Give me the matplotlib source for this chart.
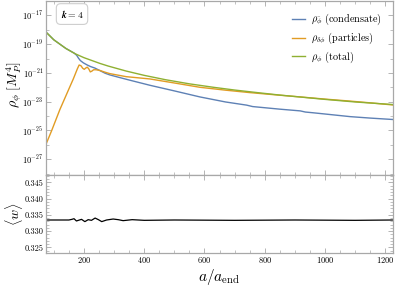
"""Energy densities and equation of state for the k = 4 run."""

import matplotlib

matplotlib.use("Agg")
import matplotlib.pyplot as plt
import numpy as np
from matplotlib.ticker import FixedLocator, MultipleLocator, NullFormatter

# values (log10 of energy density)
a_total = [74, 100, 140, 170, 200, 253, 280, 340, 400, 470, 550, 630, 700, 780, 850, 930, 1000, 1100, 1226]
log_total = [-18.16, -18.70, -19.30, -19.66, -19.94, -20.34, -20.52, -20.87, -21.17, -21.47, -21.76,
             -22.00, -22.19, -22.38, -22.54, -22.70, -22.84, -23.02, -23.20]

a_cond = [74, 100, 140, 168, 176, 182, 188, 198, 210, 222, 236, 253, 270, 286, 320, 353, 419, 500, 585,
          670, 740, 760, 790, 850, 918, 935, 960, 1020, 1084, 1150, 1226]
log_cond = [-18.16, -18.70, -19.30, -19.63, -19.78, -19.98, -20.14, -20.30, -20.44, -20.56, -20.66,
            -20.84, -21.02, -21.14, -21.33, -21.51, -21.86, -22.25, -22.67, -23.02, -23.24, -23.34,
            -23.40, -23.52, -23.64, -23.72, -23.77, -23.90, -24.04, -24.14, -24.24]

a_part = [74, 93, 120, 148, 165, 178, 184, 190, 196, 201, 206, 211, 216, 221, 226, 232, 240, 253, 270,
          286, 340, 419, 500, 585, 670, 751, 850, 918, 1000, 1084, 1150, 1226]
log_part = [-25.96, -25.00, -23.55, -22.21, -21.40, -20.72, -20.45, -20.50, -20.68, -20.75, -20.66,
            -20.60, -20.72, -20.93, -20.88, -20.78, -20.78, -20.83, -20.95, -21.05, -21.26, -21.42,
            -21.70, -22.00, -22.20, -22.37, -22.55, -22.67, -22.82, -22.96, -23.08, -23.23]

# averaged equation of state <w>
a_w = [74, 150, 160, 167, 175, 185, 192, 203, 214, 225, 237, 248, 259, 275, 297, 314, 330, 360, 400,
       500, 700, 900, 1100, 1226]
w_avg = [0.3334, 0.3334, 0.3336, 0.3338, 0.3331, 0.3334, 0.3336, 0.3329, 0.3335, 0.3333, 0.3340,
         0.3335, 0.3329, 0.3334, 0.3337, 0.3335, 0.3332, 0.3335, 0.3333, 0.3334, 0.3333, 0.3334,
         0.3333, 0.3334]

blue = "#5E81B5"
orange = "#E19C24"
green = "#8FB032"
frame = "#a8a8a8"

plt.rcParams["mathtext.fontset"] = "cm"
plt.rcParams["font.family"] = ["cmr10", "DejaVu Serif"]
plt.rcParams["axes.formatter.use_mathtext"] = True
plt.rcParams["axes.unicode_minus"] = False

fig = plt.figure(figsize=(3.99, 2.94), dpi=100)
ax = fig.add_axes([0.1153, 0.4048, 0.8697, 0.5918])
axw = fig.add_axes([0.1153, 0.1405, 0.8697, 0.2643], sharex=ax)

ax.plot(a_cond, 10 ** np.array(log_cond), color=blue, lw=1.0,
        label=r"$\rho_{\bar{\phi}}$ (condensate)")
ax.plot(a_part, 10 ** np.array(log_part), color=orange, lw=1.0,
        label=r"$\rho_{\delta\phi}$ (particles)")
ax.plot(a_total, 10 ** np.array(log_total), color=green, lw=1.0,
        label=r"$\rho_{\phi}$ (total)")
ax.set_yscale("log")
ax.set_ylim(8e-29, 1e-16)
ax.set_xlim(74, 1226)

ax.yaxis.set_major_locator(FixedLocator([10.0 ** e for e in range(-27, -16, 2)]))
ax.yaxis.set_minor_locator(FixedLocator([10.0 ** e for e in range(-28, -15)]))
ax.yaxis.set_minor_formatter(NullFormatter())
ax.set_ylabel(r"$\rho_\phi\ [M_P^4]$", fontsize=10, va="center")
ax.yaxis.set_label_coords(-0.093, 0.52)

axw.plot(a_w, w_avg, color="black", lw=0.9)
axw.set_ylim(0.32334, 0.34725)
axw.yaxis.set_major_locator(MultipleLocator(0.005))
axw.yaxis.set_minor_locator(MultipleLocator(0.001))
axw.yaxis.set_major_formatter(plt.FuncFormatter(lambda v, p: f"{v:.3f}"))
axw.set_ylabel(r"$\langle w \rangle$", fontsize=10, va="center")
axw.yaxis.set_label_coords(-0.093, 0.5)
axw.set_xlabel(r"$a/a_{\mathrm{end}}$", fontsize=11, labelpad=1)

axw.xaxis.set_major_locator(MultipleLocator(200))
axw.xaxis.set_minor_locator(MultipleLocator(50))
ax.tick_params(labelbottom=False)

for a in (ax, axw):
    for s in a.spines.values():
        s.set_color(frame)
        s.set_linewidth(0.9)
    a.tick_params(which="both", direction="in", top=True, right=True, color=frame,
                  labelsize=6, pad=2)
    a.tick_params(which="major", length=3.5, width=0.6)
    a.tick_params(which="minor", length=2, width=0.5)

ax.legend(loc="upper right", frameon=False, fontsize=7.3, handlelength=1.3,
          handletextpad=0.6, labelspacing=0.35, borderaxespad=0.7)

ax.text(0.075, 0.925, r"$\boldsymbol{k = 4}$", transform=ax.transAxes, fontsize=7,
        ha="center", va="center",
        bbox=dict(boxstyle="round,pad=0.45", fc="white", ec="#cfcfcf", lw=0.8))

fig.savefig("out.png", dpi=100)
